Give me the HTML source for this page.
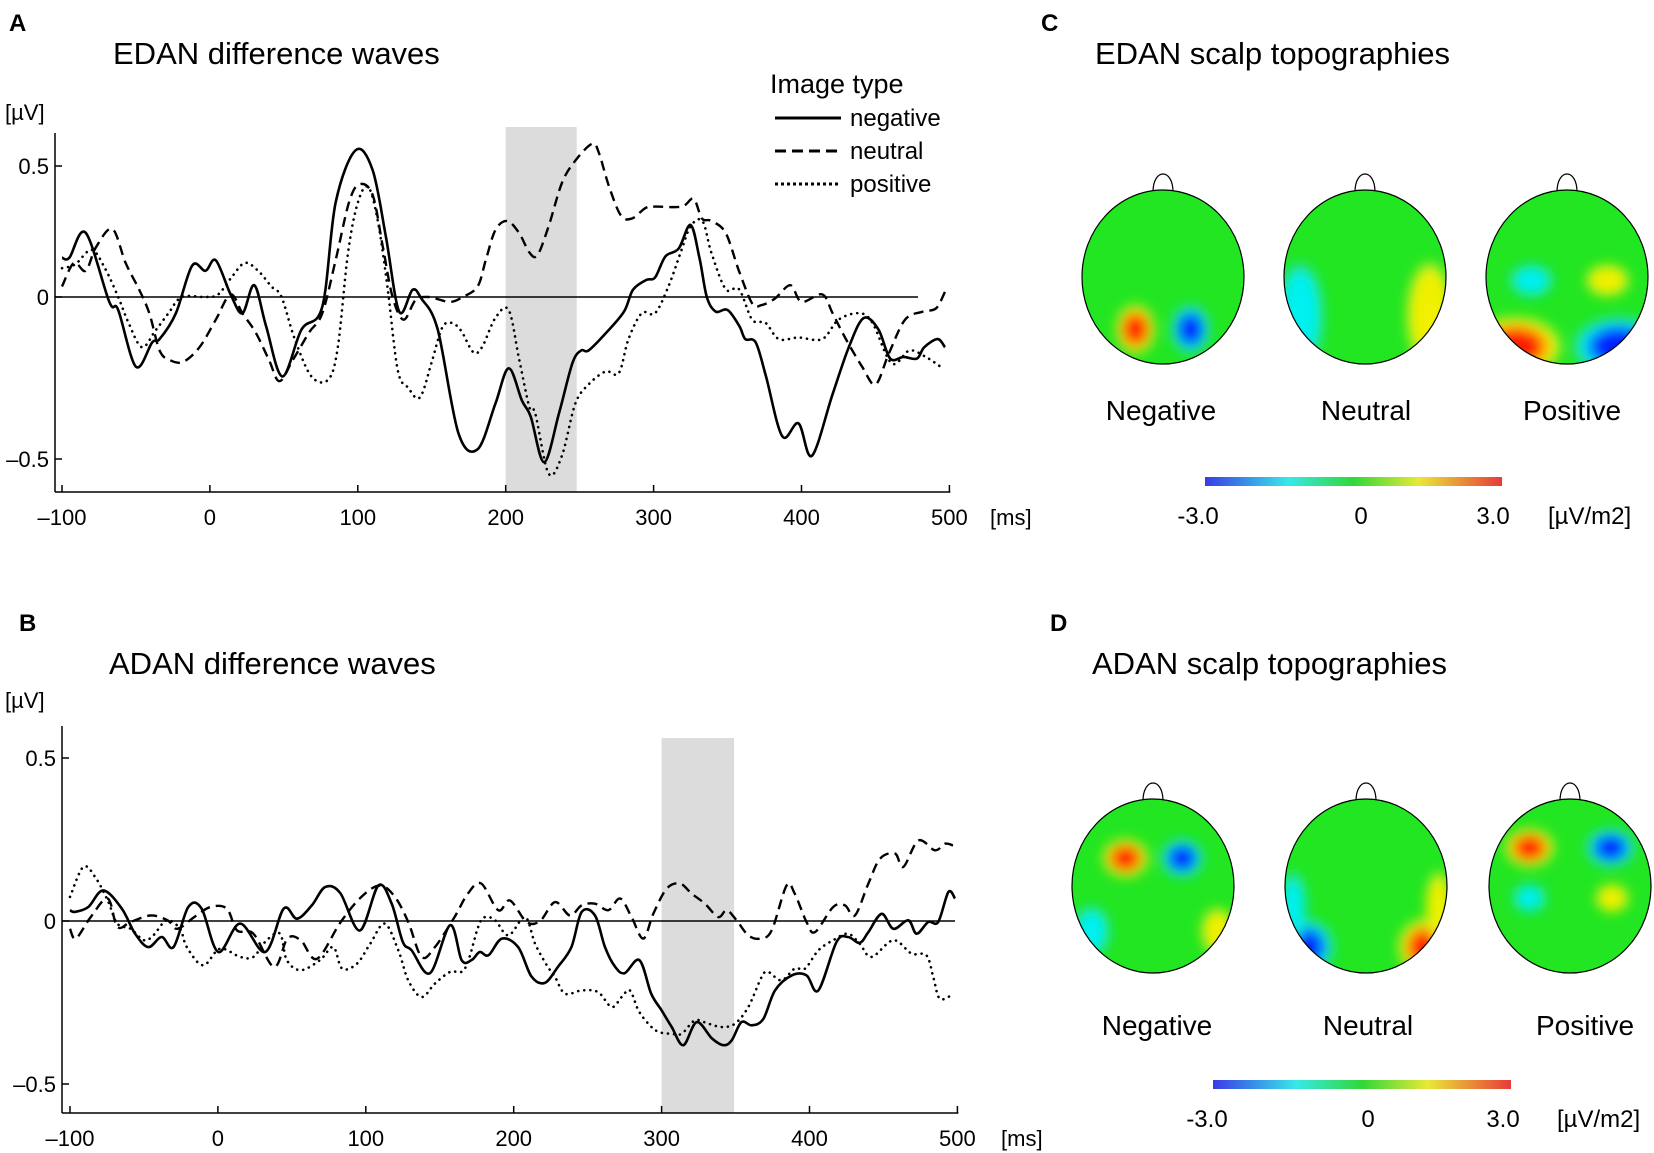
<!DOCTYPE html>
<html><head><meta charset="utf-8"><style>
html,body{margin:0;padding:0;background:#fff;}
svg{display:block;font-family:"Liberation Sans",Arial,sans-serif;}
</style></head><body>
<svg id="fig" width="1654" height="1153" viewBox="0 0 1654 1153" xmlns="http://www.w3.org/2000/svg">
<defs>
<filter id="blur" x="-50%" y="-50%" width="200%" height="200%"><feGaussianBlur stdDeviation="6"/></filter>
<linearGradient id="cbar" x1="0" x2="1" y1="0" y2="0">
<stop offset="0" stop-color="#3a3ae8"/><stop offset="0.28" stop-color="#38e8e8"/><stop offset="0.5" stop-color="#30d838"/><stop offset="0.72" stop-color="#e8e838"/><stop offset="1" stop-color="#e83a3a"/>
</linearGradient>
</defs>
<g id="static">
<text x="9" y="31" font-size="24" font-weight="bold">A</text>
<text x="113" y="64" font-size="31">EDAN difference waves</text>
<text x="5" y="120" font-size="22">[µV]</text>
<text x="770" y="93" font-size="27">Image type</text>
<g><line x1="775" y1="118" x2="841" y2="118" stroke="#000" stroke-width="3"/><text x="850" y="126" font-size="24">negative</text></g>
<g><line x1="775" y1="151" x2="841" y2="151" stroke="#000" stroke-width="3" stroke-dasharray="11 6"/><text x="850" y="159" font-size="24">neutral</text></g>
<g><line x1="775" y1="184" x2="841" y2="184" stroke="#000" stroke-width="3" stroke-dasharray="3 3"/><text x="850" y="192" font-size="24">positive</text></g>
<text x="19" y="631" font-size="24" font-weight="bold">B</text>
<text x="109" y="674" font-size="31">ADAN difference waves</text>
<text x="5" y="708" font-size="22">[µV]</text>
<text x="1041" y="31" font-size="24" font-weight="bold">C</text>
<text x="1095" y="64" font-size="31">EDAN scalp topographies</text>
<text x="1050" y="631" font-size="24" font-weight="bold">D</text>
<text x="1092" y="674" font-size="31">ADAN scalp topographies</text>
</g>
<g id="chartA"></g>
<g id="chartB"></g>
<g id="topos"></g>
</svg>
<script>
// ---- Panel A data (ms, µV) ----
const aNegT=[-100,-95,-84,-68,-62,-50,-39,-34,-23,-12,-3,4,14,22,30,38,49,62,76,85,98.5,110,119,128,137,143,154,168,181,193,202,211,217,226,236,245,251,256,268,280,286,295,301,308,317,325,331,336,342,350,358,362,369,376,387,398,407,421,432,442,452,460,469,478,483,492,497];
const aNegV=[0.15,0.15,0.245,-0.015,-0.04,-0.215,-0.14,-0.13,-0.05,0.12,0.10,0.14,0.01,-0.05,0.045,-0.09,-0.245,-0.10,-0.03,0.36,0.56,0.485,0.23,-0.045,0.027,-0.005,-0.10,-0.42,-0.47,-0.33,-0.22,-0.32,-0.37,-0.51,-0.36,-0.205,-0.165,-0.165,-0.11,-0.045,0.027,0.065,0.075,0.155,0.185,0.275,0.15,0.0,-0.045,-0.04,-0.09,-0.13,-0.14,-0.245,-0.43,-0.39,-0.49,-0.30,-0.155,-0.065,-0.10,-0.19,-0.185,-0.19,-0.155,-0.13,-0.155];
const aNeuT=[-100,-92,-84,-77,-66,-57,-48,-41,-34,-27,-18,-7,4,14,22,31,40,47,56,67,76,85,94,101,110,117,123.5,131,139,148,162,171,181,186.5,193,201,209,216,221.5,229,238,247,258.5,263,270,278,285.5,294.6,301,319,327,332.6,339,348.7,357.7,366.7,373,382,392.5,400,414,421,430,441,450,459,470,482,491,497];
const aNeuV=[0.04,0.13,0.10,0.19,0.26,0.13,0.03,-0.05,-0.165,-0.195,-0.20,-0.155,-0.07,0.01,-0.05,-0.11,-0.195,-0.26,-0.195,-0.11,-0.05,0.14,0.36,0.43,0.39,0.19,0.0,-0.07,-0.01,0.0,-0.015,0.0,0.04,0.14,0.255,0.29,0.245,0.17,0.16,0.27,0.435,0.52,0.585,0.55,0.42,0.31,0.30,0.34,0.345,0.345,0.375,0.30,0.29,0.245,0.10,-0.02,-0.025,-0.005,0.045,-0.015,0.01,-0.05,-0.13,-0.215,-0.27,-0.175,-0.07,-0.045,-0.035,0.02];
const aPosT=[-100,-91,-80,-71,-62,-55,-46,-37,-28,-19,-3.4,5.6,14.6,23.6,32.6,41.6,48.4,57.4,68.6,80,86.5,93.3,100,107,113.5,120,127,134,142,150,157,163.5,170,178,184,193,202,209,216,220,229,238,247,256,267.5,276.5,283,292,301,310,318,325,333,339,348.7,357.7,366.7,375.7,384.7,398,414,425,439,448,461,473,484,494];
const aPosV=[0.11,0.125,0.18,0.11,0.0,-0.08,-0.155,-0.105,-0.05,0.0,0.0,0.01,0.075,0.13,0.10,0.04,0.0,-0.13,-0.245,-0.255,-0.155,0.165,0.36,0.42,0.29,0.04,-0.225,-0.28,-0.31,-0.20,-0.095,-0.08,-0.105,-0.17,-0.155,-0.065,-0.04,-0.19,-0.34,-0.36,-0.545,-0.49,-0.33,-0.27,-0.23,-0.235,-0.13,-0.05,-0.05,0.04,0.165,0.27,0.29,0.17,0.03,0.03,-0.07,-0.08,-0.13,-0.125,-0.13,-0.07,-0.05,-0.08,-0.205,-0.165,-0.185,-0.215];
const aXTicks=[-100,0,100,200,300,400,500];
const aXLabels=["\u2013100","0","100","200","300","400","500"];
const aYTicks=[0.5,0,-0.5];
const aYLabels=["0.5","0","\u20130.5"];
const aShade=[200,248];

// ---- Panel B data ----
const bNegT=[-100,-96.6,-87.6,-77.5,-65,-56,-47,-38,-30,-20,-11,0.3,15,32,44.5,53.5,63.5,72.5,82.7,96,108.5,117.5,125,131,143.4,157,164.8,171.5,177,183,192,203,212,221,230,239,246,255,261.7,268.5,275,285,293,300,306.8,314.7,323.7,334,341.7,347.4,354,361,368.8,376.7,388,398,406,418.3,426,434,439.8,448.8,456.7,466.8,472.4,480.3,487,493.9,498.4];
const bNegV=[0.033,0.028,0.043,0.094,0.038,-0.039,-0.08,-0.049,-0.08,0.043,0.038,-0.095,-0.008,-0.095,0.038,0.007,0.048,0.104,0.086,-0.029,0.109,0.053,-0.064,-0.09,-0.16,-0.013,-0.12,-0.12,-0.095,-0.105,-0.054,-0.08,-0.17,-0.19,-0.14,-0.08,0.028,0.017,-0.08,-0.14,-0.16,-0.12,-0.223,-0.274,-0.325,-0.381,-0.31,-0.36,-0.381,-0.366,-0.31,-0.32,-0.30,-0.213,-0.167,-0.167,-0.213,-0.064,-0.049,-0.067,-0.034,0.022,-0.024,0.002,-0.039,-0.003,-0.003,0.089,0.069];
const bNeuT=[-100,-96,-86,-74.5,-68,-59,-45.5,-34,-27.5,-16,-5,6,13,24,38,47,56,67,83,97,109.6,119.7,128.7,137.7,146.7,160,169,178,189.5,197.5,208.7,217.8,228,238,246,255,264,272,279.7,287.6,294.4,303.4,312.4,320.3,329.3,338.3,344,350.7,358.6,366.5,374.4,384.5,390,398,403.7,416,424,430.7,439.8,447.7,457.8,463.4,473.6,484.8,491.6,497];
const bNeuV=[-0.024,-0.054,0.012,0.069,-0.018,-0.003,0.017,0.002,-0.024,0.012,0.043,0.038,-0.029,-0.039,-0.141,-0.054,-0.059,-0.116,-0.003,0.074,0.109,0.074,-0.003,-0.11,-0.08,0.012,0.084,0.115,0.033,0.063,-0.003,0.0,0.058,0.017,0.048,0.053,0.033,0.069,0.012,-0.054,0.022,0.099,0.115,0.084,0.053,0.012,0.033,0.002,-0.044,-0.054,-0.029,0.109,0.084,-0.003,-0.034,0.043,0.048,0.017,0.115,0.191,0.207,0.166,0.247,0.217,0.237,0.232];
const bPosT=[-100,-91,-83,-74.5,-68,-59,-50,-43.6,-34.6,-25.6,-21,-10,1.4,15,24,33,42,46.6,56,69,78,84,94,103,112.8,122,128.7,137.7,146.7,157,167,176,180.5,187.5,196.5,207.7,214.5,222.4,228,234.7,246,257,266.2,273,278.6,284.3,291,297.8,306.8,313.5,322.6,331.6,340.6,349.6,358.6,367.6,372,381,390,397,406,416,426,434,442,456.7,469,479,483.7,488,496];
const bPosV=[0.074,0.166,0.135,0.063,-0.008,-0.024,-0.059,-0.044,0.002,-0.024,-0.08,-0.136,-0.085,-0.11,-0.11,-0.059,-0.039,-0.12,-0.151,-0.12,-0.08,-0.146,-0.131,-0.07,-0.008,-0.09,-0.182,-0.233,-0.192,-0.156,-0.146,-0.018,0.012,0.002,-0.044,0.012,-0.07,-0.136,-0.172,-0.223,-0.213,-0.218,-0.264,-0.233,-0.213,-0.274,-0.315,-0.34,-0.346,-0.346,-0.305,-0.315,-0.325,-0.315,-0.264,-0.172,-0.156,-0.182,-0.146,-0.146,-0.09,-0.059,-0.039,-0.07,-0.11,-0.059,-0.1,-0.105,-0.172,-0.238,-0.228];
const bXTicks=[-100,0,100,200,300,400,500];
const bXLabels=["\u2013100","0","100","200","300","400","500"];
const bYTicks=[0.5,0,-0.5];
const bYLabels=["0.5","0","\u20130.5"];
const bShade=[300,349];

const NS="http://www.w3.org/2000/svg";
function mk(tag,attrs,parent){const e=document.createElementNS(NS,tag);for(const k in attrs)e.setAttribute(k,attrs[k]);if(parent)parent.appendChild(e);return e;}
function smoothPath(pts){
  let d="M"+pts[0][0].toFixed(1)+","+pts[0][1].toFixed(1);
  for(let i=0;i<pts.length-1;i++){
    const p0=pts[Math.max(0,i-1)],p1=pts[i],p2=pts[i+1],p3=pts[Math.min(pts.length-1,i+2)];
    const c1x=p1[0]+(p2[0]-p0[0])/6,c1y=p1[1]+(p2[1]-p0[1])/6;
    const c2x=p2[0]-(p3[0]-p1[0])/6,c2y=p2[1]-(p3[1]-p1[1])/6;
    d+="C"+c1x.toFixed(1)+","+c1y.toFixed(1)+" "+c2x.toFixed(1)+","+c2y.toFixed(1)+" "+p2[0].toFixed(1)+","+p2[1].toFixed(1);
  }
  return d;
}
function drawChart(g,cfg){
  const x=t=>cfg.x0+(t+100)*cfg.pxPerMs;
  const y=v=>v>=0?cfg.y0-v*cfg.upScale:cfg.y0-v*cfg.dnScale;
  const sh=mk('rect',{x:x(cfg.shade[0]),y:cfg.shadeTop,width:x(cfg.shade[1])-x(cfg.shade[0]),height:cfg.axisBottom-cfg.shadeTop,fill:'#dcdcdc'},g);
  
  
  const zl=mk('line',{x1:cfg.axisLeft,y1:y(0),x2:cfg.zeroEnd,y2:y(0),stroke:'#000','stroke-width':1.5},g);
  
  
  const ya=mk('line',{x1:cfg.axisLeft,y1:cfg.axisTop,x2:cfg.axisLeft,y2:cfg.axisBottom,stroke:'#000','stroke-width':1.5},g);
  
  
  const xa=mk('line',{x1:cfg.axisLeft,y1:cfg.axisBottom,x2:x(500)+1,y2:cfg.axisBottom,stroke:'#000','stroke-width':1.5},g);
  
  
  cfg.xTicks.forEach((t,i)=>{
    mk('line',{x1:x(t),y1:cfg.axisBottom,x2:x(t),y2:cfg.axisBottom-7,stroke:'#000','stroke-width':1.5},g);
    const tx=mk('text',{x:x(t),y:cfg.xLabelY,'font-size':22,'text-anchor':'middle'},g);
    tx.textContent=cfg.xLabels[i];
    
    
  });
  const ms=mk('text',{x:cfg.msX,y:cfg.xLabelY,'font-size':22},g);ms.textContent='[ms]';
  
  
  cfg.yTicks.forEach((v,i)=>{
    mk('line',{x1:cfg.axisLeft,y1:y(v),x2:cfg.axisLeft+7,y2:y(v),stroke:'#000','stroke-width':1.5},g);
    const tx=mk('text',{x:cfg.axisLeft-6,y:y(v)+8,'font-size':22,'text-anchor':'end'},g);
    tx.textContent=cfg.yLabels[i];
    
    
  });
  cfg.series.forEach(s=>{
    const pts=s.t.map((t,i)=>[x(t),y(s.v[i])]);
    const p=mk('path',{d:smoothPath(pts),fill:'none',stroke:'#000','stroke-width':s.w,'stroke-dasharray':s.dash,'stroke-linecap':s.cap},g);
    
    
  });
}
drawChart(document.getElementById('chartA'),{x0:62,pxPerMs:1.479,y0:297,upScale:262,dnScale:324,axisLeft:55,axisTop:133,axisBottom:492,shadeTop:127,zeroEnd:918,shade:aShade,
  xTicks:aXTicks,xLabels:aXLabels,yTicks:aYTicks,yLabels:aYLabels,xLabelY:525,msX:990,
  series:[{t:aNeuT,v:aNeuV,w:2.4,dash:'10 6',cap:'butt',name:'neutral-line-a'},{t:aPosT,v:aPosV,w:2.6,dash:'0.1 6',cap:'round',name:'positive-line-a'},{t:aNegT,v:aNegV,w:2.6,dash:'none',cap:'butt',name:'negative-line-a'}]});
drawChart(document.getElementById('chartB'),{x0:70,pxPerMs:1.479,y0:921,upScale:326,dnScale:326,axisLeft:62,axisTop:726,axisBottom:1113,shadeTop:738,zeroEnd:955,shade:bShade,
  xTicks:bXTicks,xLabels:bXLabels,yTicks:bYTicks,yLabels:bYLabels,xLabelY:1146,msX:1001,
  series:[{t:bNeuT,v:bNeuV,w:2.4,dash:'10 6',cap:'butt',name:'neutral-line-b'},{t:bPosT,v:bPosV,w:2.6,dash:'0.1 6',cap:'round',name:'positive-line-b'},{t:bNegT,v:bNegV,w:2.6,dash:'none',cap:'butt',name:'negative-line-b'}]});

// ---- Topographies: [cx, cy, rx, ry, sign(+1 red/-1 blue), strength 0..1] in head-relative units ----
const topoNames=["Negative","Neutral","Positive"];
const topoC=[
 [[0.33,0.80,0.12,0.14,1,0.9],[0.67,0.80,0.12,0.14,-1,1]],
 [[0.1,0.72,0.14,0.3,-1,0.45],[0.9,0.72,0.14,0.3,1,0.5]],
 [[0.18,0.9,0.28,0.17,1,1],[0.82,0.9,0.28,0.17,-1,1],[0.28,0.52,0.13,0.09,-1,0.5],[0.75,0.52,0.13,0.09,1,0.5]]
];
const topoD=[
 [[0.33,0.34,0.14,0.11,1,0.9],[0.68,0.34,0.13,0.11,-1,0.95],[0.12,0.76,0.11,0.14,-1,0.45],[0.9,0.76,0.1,0.13,1,0.45]],
 [[0.13,0.85,0.17,0.16,-1,0.95],[0.87,0.85,0.17,0.16,1,0.9],[0.05,0.62,0.08,0.2,-1,0.45],[0.95,0.62,0.08,0.2,1,0.45]],
 [[0.25,0.28,0.15,0.11,1,0.9],[0.75,0.28,0.15,0.11,-1,0.95],[0.25,0.57,0.1,0.08,-1,0.5],[0.76,0.57,0.1,0.08,1,0.6]]
];
const POS=['#c8f020','#f0f000','#ff9000','#ff1a00'];
const NEG=['#20e0a0','#00f0f0','#0090ff','#0022ff'];
function drawHeads(cxs,cy,blobs,labelY,labelXs,idx){
  const g=document.getElementById('topos');
  cxs.forEach((cx,i)=>{
    const rx=81,ry=87;
    const hg=mk('g',{},g);
    
    
    const cid='clip'+idx+i;
    const cp=mk('clipPath',{id:cid},hg);mk('ellipse',{cx:cx,cy:cy,rx:rx,ry:ry},cp);
    mk('path',{d:`M${cx-10},${cy-ry+2} C${cx-10},${cy-ry-22} ${cx+10},${cy-ry-22} ${cx+10},${cy-ry+2}`,fill:'none',stroke:'#000','stroke-width':1.2},hg);
    const inner=mk('g',{'clip-path':`url(#${cid})`},hg);
    mk('rect',{x:cx-rx,y:cy-ry,width:2*rx,height:2*ry,fill:'#22e622'},inner);
    const bl=mk('g',{filter:'url(#blur)'},inner);
    blobs[i].forEach(b=>{
      const pal=b[4]>0?POS:NEG;
      const n=Math.max(1,Math.round(b[5]*4));
      for(let k=0;k<n;k++){
        const f=1-k*0.14;
        mk('ellipse',{cx:cx-rx+b[0]*2*rx,cy:cy-ry+b[1]*2*ry,rx:b[2]*2*rx*f,ry:b[3]*2*ry*f,fill:pal[k]},bl);
      }
    });
    mk('ellipse',{cx:cx,cy:cy,rx:rx,ry:ry,fill:'none',stroke:'#000','stroke-width':1.2},hg);
    const t=mk('text',{x:labelXs[i],y:labelY,'font-size':28,'text-anchor':'middle'},g);
    t.textContent=topoNames[i];
    
    
  });
}
drawHeads([1163,1365,1567],277,topoC,420,[1161,1366,1572],'c');
drawHeads([1153,1366,1570],886,topoD,1035,[1157,1368,1585],'d');
function drawBar(x1,x2,y,ly,lx){
  const g=document.getElementById('topos');
  const r=mk('rect',{x:x1,y:y,width:x2-x1,height:9,fill:'url(#cbar)'},g);
  
  
  const labs=["-3.0","0","3.0","[µV/m2]"];
  labs.forEach((s,i)=>{const t=mk('text',{x:lx[i],y:ly,'font-size':24,'text-anchor':i==3?'start':'middle'},g);t.textContent=s;
    
    });
}
drawBar(1205,1502,477,524,[1198,1361,1493,1548]);
drawBar(1213,1511,1080,1127,[1207,1368,1503,1557]);
</script>
</body></html>
